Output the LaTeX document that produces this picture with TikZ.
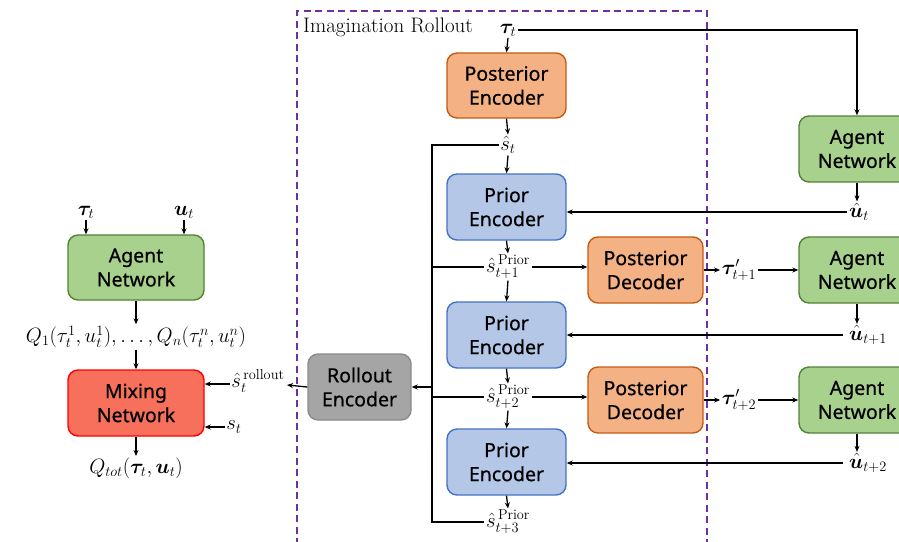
\documentclass[tikz,border=0pt]{standalone}
\usepackage{amsmath,bm}
\usepackage{fontspec}
\newfontfamily\boxfont[FakeBold=0.6]{Noto Sans}
\usetikzlibrary{arrows.meta,calc}

\definecolor{postfill}{HTML}{F4B183}
\definecolor{postline}{HTML}{C55A11}
\definecolor{priorfill}{HTML}{B4C7E7}
\definecolor{priorline}{HTML}{4472C4}
\definecolor{agentfill}{HTML}{A9D18E}
\definecolor{agentline}{HTML}{538135}
\definecolor{rollfill}{HTML}{A5A5A5}
\definecolor{rollline}{HTML}{8A8A8A}
\definecolor{mixfill}{HTML}{F7705C}
\definecolor{mixline}{HTML}{FF0000}
\definecolor{framecol}{HTML}{7030A0}

\tikzset{
  blk/.style={draw, line width=1.4pt, rounded corners=10pt, align=center,
    inner sep=0pt, font=\boxfont\fontsize{19.5}{24}\selectfont},
  postbox/.style={blk, fill=postfill, draw=postline, minimum width=119pt, minimum height=65pt},
  decbox/.style={blk, fill=postfill, draw=postline, minimum width=115pt, minimum height=66pt},
  priorbox/.style={blk, fill=priorfill, draw=priorline, minimum width=119pt, minimum height=66pt},
  agentbox/.style={blk, fill=agentfill, draw=agentline, minimum width=116pt, minimum height=66pt},
  agentwide/.style={blk, fill=agentfill, draw=agentline, minimum width=136pt, minimum height=65pt},
  rollbox/.style={blk, fill=rollfill, draw=rollline, minimum width=103pt, minimum height=66pt},
  mixbox/.style={blk, fill=mixfill, draw=mixline, minimum width=136pt, minimum height=66pt},
  lbl/.style={inner sep=1.5pt, font=\fontsize{20.5}{24}\selectfont},
  arr/.style={-{Stealth[length=6pt,width=5pt]}, line width=1.3pt},
  ln/.style={line width=1.3pt},
}

\begin{document}
\begin{tikzpicture}[x=1pt, y=-1pt]
\useasboundingbox (0,0) rectangle (899,541);
\begin{scope}
\clip (0,0) rectangle (899,541);

% imagination rollout frame (open at the bottom)
\draw[framecol, line width=1.4pt, dash pattern=on 7pt off 4.5pt]
  (297,545) -- (297,11) -- (707,11) -- (707,545);
\node[anchor=base west, inner sep=0pt, font=\fontsize{21}{24}\selectfont] (title) at (303,32) {Imagination Rollout};

% rollout chain
\node[lbl] (taut) at (508,30) {$\bm{\tau}_t$};
\node[postbox] (penc) at (506.5,85.5) {Posterior\\Encoder};
\node[lbl] (s0) at (508,145) {$\hat{s}_t$};
\node[priorbox] (pr1) at (506.5,207) {Prior\\Encoder};
\node[lbl] (s1) at (508,267) {$\hat{s}^{\,\mathrm{Prior}}_{t+1}$};
\node[priorbox] (pr2) at (506.5,335) {Prior\\Encoder};
\node[lbl] (s2) at (508,397) {$\hat{s}^{\,\mathrm{Prior}}_{t+2}$};
\node[priorbox] (pr3) at (506.5,462) {Prior\\Encoder};
\node[lbl] (s3) at (508,522) {$\hat{s}^{\,\mathrm{Prior}}_{t+3}$};

\node[decbox] (dec1) at (645.5,270) {Posterior\\Decoder};
\node[decbox] (dec2) at (645.5,400) {Posterior\\Decoder};
\node[lbl] (tp1) at (739,270) {$\bm{\tau}'_{t+1}$};
\node[lbl] (tp2) at (739,400) {$\bm{\tau}'_{t+2}$};

\node[agentbox] (ag1) at (857,149) {Agent\\Network};
\node[agentbox] (ag2) at (857,270) {Agent\\Network};
\node[agentbox] (ag3) at (857,400) {Agent\\Network};
\node[lbl] (u0) at (859,212) {$\hat{\bm{u}}_t$};
\node[lbl] (u1) at (868,335) {$\hat{\bm{u}}_{t+1}$};
\node[lbl] (u2) at (868,463) {$\hat{\bm{u}}_{t+2}$};

\node[rollbox] (roll) at (359.5,387) {Rollout\\Encoder};
\coordinate (rollout) at (287,385);
\coordinate (trunk) at (432,145);

% left: agent and mixing networks
\node[lbl] (tauL) at (86,212) {$\bm{\tau}_t$};
\node[lbl] (uL) at (184,212) {$\bm{u}_t$};
\node[agentwide] (agL) at (136,267.5) {Agent\\Network};
\node[lbl] (qs) at (136,337) {$Q_1(\tau^1_t,u^1_t),\ldots,Q_n(\tau^n_t,u^n_t)$};
\node[mixbox] (mix) at (136,403) {Mixing\\Network};
\node[lbl] (qtot) at (136,468) {$Q_{tot}(\bm{\tau}_t,\bm{u}_t)$};
\node[lbl] (sroll) at (258,381) {$\hat{s}^{\,\mathrm{rollout}}_t$};
\node[lbl] (st) at (234,427) {$s_t$};
\coordinate (srin) at ([yshift=-3pt]sroll.west);

% connectors in the rollout chain
\draw[arr] (taut.south) -- (penc.north);
\draw[arr] (penc.south) -- (s0.north);
\draw[arr] (s0.south) -- (pr1.north);
\draw[arr] (pr1.south) -- (s1.north);
\draw[arr] (s1.south) -- (pr2.north);
\draw[arr] (pr2.south) -- (s2.north);
\draw[arr] (s2.south) -- (pr3.north);
\draw[arr] (pr3.south) -- (s3.north);

\draw[ln] (s0.west) -- (trunk) -- (trunk |- s3.west) -- (s3.west);
\draw[ln] (trunk |- s1.west) -- (s1.west);
\draw[ln] (trunk |- s2.west) -- (s2.west);
\draw[arr] (s1.east) -- (dec1.west |- s1.east);
\draw[arr] (s2.east) -- (dec2.west |- s2.east);
\draw[arr] (trunk |- roll.east) -- (roll.east);
\draw[arr] (roll.west) -- (rollout);

\draw[arr] (dec1.east) -- (tp1.west);
\draw[arr] (dec2.east) -- (tp2.west);
\draw[arr] (tp1.east) -- (ag2.west);
\draw[arr] (tp2.east) -- (ag3.west);

\draw[arr] (taut.east) -- (ag1.north |- taut.east) -- (ag1.north);
\draw[arr] (ag1.south) -- (u0.north -| ag1.south);
\draw[arr] (ag2.south) -- (u1.north -| ag2.south);
\draw[arr] (ag3.south) -- (u2.north -| ag3.south);
\draw[arr] (u0.west) -- (pr1.east |- u0.west);
\draw[arr] ([xshift=-4pt]u1.west) -- (pr2.east |- u1.west);
\draw[arr] ([xshift=-4pt]u2.west) -- (pr3.east |- u2.west);

% connectors on the left
\draw[arr] (tauL.south) -- (agL.north -| tauL.south);
\draw[arr] (uL.south) -- (agL.north -| uL.south);
\draw[arr] (agL.south) -- (qs.north);
\draw[arr] (qs.south) -- (mix.north);
\draw[arr] (mix.south) -- (qtot.north);
\draw[arr] (srin) -- (mix.east |- srin);
\draw[arr] (st.west) -- (mix.east |- st.west);
\end{scope}
\end{tikzpicture}
\end{document}
